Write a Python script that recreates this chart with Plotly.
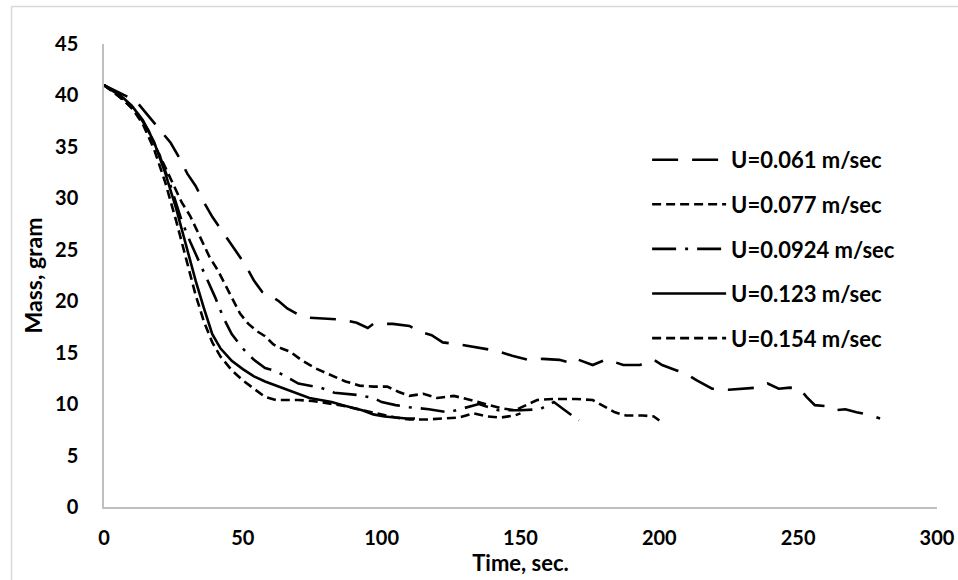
import plotly.graph_objects as go

# ---- data ----
t_061 = [0, 3, 6, 9, 12, 15, 18, 21, 24, 27, 30, 33, 36, 39, 42, 45, 48, 51, 54, 57, 60, 63, 66, 70, 74, 80, 86, 91, 95, 97,
         104, 110, 114, 118, 122, 128, 135, 141, 147, 153, 158, 164, 168, 170, 176, 181, 187, 193, 198, 201, 206, 210, 213.5,
         219, 225, 230, 235, 239, 243, 247, 250.6, 253, 256, 260, 263, 267, 271, 275, 279.5]
m_061 = [41, 40.6, 40.2, 39.8, 39.3, 38.3, 37.3, 36.4, 35.4, 34.0, 32.4, 31.2, 29.6, 28.2, 27.0, 25.9, 24.7, 23.5, 22.0, 20.9,
         20.5, 20.0, 19.3, 18.7, 18.4, 18.3, 18.2, 17.9, 17.4, 17.8, 17.8, 17.6, 17.0, 16.7, 16.0, 15.8, 15.5, 15.2, 14.7,
         14.3, 14.4, 14.3, 14.0, 14.4, 13.8, 14.35, 13.8, 13.8, 14.3, 13.8, 13.3, 12.9, 12.3, 11.5, 11.4, 11.5, 11.6, 12.0,
         11.5, 11.6, 11.5, 10.7, 9.9, 9.8, 9.4, 9.5, 9.2, 9.0, 8.6]

t_077 = [0, 4, 8, 12, 16, 20, 24, 28, 31, 34, 38, 41, 44, 46, 49, 52, 55, 58, 61, 64, 67, 71, 76, 81, 87, 92, 97, 102,
         106, 110, 115, 120, 126, 132, 138, 143, 148, 152, 156, 162, 170, 176, 180, 184, 188, 194, 198, 200]
m_077 = [41, 40.2, 39.3, 38.2, 36.5, 34.2, 31.8, 29.6, 28.3, 26.6, 24.3, 23.0, 21.4, 20.4, 18.8, 17.8, 17.1, 16.6, 15.8,
         15.4, 15.1, 14.3, 13.5, 12.9, 12.2, 11.8, 11.7, 11.7, 11.2, 10.8, 11.0, 10.6, 10.8, 10.4, 10.0, 9.6, 9.4, 9.9,
         10.4, 10.5, 10.5, 10.4, 9.8, 9.2, 8.9, 8.9, 8.8, 8.4]

t_0924 = [0, 4, 8, 12, 16, 20, 24, 28, 31, 34, 37, 40, 43, 46, 50, 54, 58, 62, 66, 70, 78, 83, 91, 97, 100, 105, 110,
          117, 124, 130, 135, 142, 150, 157, 162, 165, 168, 171]
m_0924 = [41, 40.3, 39.4, 38.3, 36.6, 34.2, 31.2, 27.8, 25.8, 24.0, 22.3, 20.4, 18.4, 16.8, 15.4, 14.3, 13.5, 13.2, 12.6,
          12.0, 11.6, 11.1, 10.9, 10.6, 10.2, 9.9, 9.7, 9.5, 9.2, 9.6, 10.0, 9.4, 9.4, 9.5, 10.2, 9.6, 9.0, 8.4]

t_123 = [0, 3, 6, 10, 14, 18, 22, 26, 30, 33, 36, 39, 42, 46, 50, 54, 58, 62, 66, 70, 74, 78, 82, 86, 90, 93, 97, 101,
         105, 109, 112]
m_123 = [41, 40.5, 40.0, 39.0, 37.6, 35.5, 32.5, 29.0, 25.0, 22.0, 19.3, 16.8, 15.4, 14.2, 13.4, 12.7, 12.2, 11.8, 11.4,
         11.0, 10.6, 10.4, 10.2, 9.9, 9.6, 9.4, 9.0, 8.8, 8.7, 8.6, 8.6]

t_154 = [0, 3, 6, 10, 14, 18, 22, 26, 30, 33, 36, 39, 42, 46, 50, 54, 58, 62, 66, 70, 75, 80, 85, 90, 95, 100, 105, 110,
         116, 122, 128, 133, 138, 143, 148, 150]
m_154 = [41, 40.4, 39.8, 38.8, 37.2, 34.8, 31.6, 27.8, 23.6, 20.6, 18.0, 16.0, 14.6, 13.3, 12.3, 11.5, 10.7, 10.4, 10.4,
         10.4, 10.3, 10.1, 9.9, 9.6, 9.3, 9.0, 8.7, 8.5, 8.5, 8.6, 8.7, 9.1, 8.8, 8.7, 8.9, 9.1]

names = ["U=0.061 m/sec", "U=0.077 m/sec", "U=0.0924 m/sec", "U=0.123 m/sec", "U=0.154 m/sec"]
x_ticks = [0, 50, 100, 150, 200, 250, 300]
y_ticks = [0, 5, 10, 15, 20, 25, 30, 35, 40, 45]

series = [(t_061, m_061), (t_077, m_077), (t_0924, m_0924), (t_123, m_123), (t_154, m_154)]
dashes = ["26px,14px", "9px,5px", "24px,9px,3px,9px", "solid", "9px,5px"]

FONT = "Lato"
fig = go.Figure()
for i, ((tx, my), nm, ds) in enumerate(zip(series, names, dashes)):
    fig.add_trace(go.Scatter(
        x=tx, y=my, mode="lines", name=nm, legendgroup=f"g{i}",
        line=dict(color="black", width=2.6, dash=ds),
    ))

fig.update_layout(
    width=958, height=580,
    margin=dict(l=104, r=21, t=44, b=73, autoexpand=False),
    paper_bgcolor="white", plot_bgcolor="white",
    font=dict(family=FONT, size=20, color="black"),
    showlegend=True,
    legend=dict(
        x=0.652, y=0.795, xanchor="left", yanchor="top",
        bgcolor="rgba(0,0,0,0)", itemwidth=74, tracegroupgap=13,
        font=dict(family=FONT, size=22, color="black", weight="bold"),
    ),
    xaxis=dict(
        range=[0, 300], tickvals=x_ticks, showgrid=False, zeroline=False,
        showline=True, linecolor="#bfbfbf", linewidth=1.5, ticks="",
        ticklabelstandoff=12, automargin=False,
        tickfont=dict(family=FONT, size=20, color="black", weight="bold"),
        title=dict(text="<b>Time, sec.</b>", standoff=4,
                   font=dict(family=FONT, size=22, color="black")),
    ),
    yaxis=dict(
        range=[0, 45], tickvals=y_ticks, showgrid=False, zeroline=False,
        showline=True, linecolor="#bfbfbf", linewidth=1.5, ticks="",
        ticklabelstandoff=20, automargin=False,
        tickfont=dict(family=FONT, size=20, color="black", weight="bold"),
        title=dict(text="<b>Mass, gram</b>", standoff=6,
                   font=dict(family=FONT, size=23, color="black")),
    ),
    shapes=[dict(type="rect", xref="paper", yref="paper",
                 x0=-0.111, x1=1.05, y0=-0.3, y1=1.081,
                 line=dict(color="#d9d9d9", width=1.5), fillcolor="rgba(0,0,0,0)", layer="below")],
)

fig.write_html("out.html", config={"displayModeBar": False},
               post_script="document.body.style.margin='0';document.body.style.overflow='hidden';")
